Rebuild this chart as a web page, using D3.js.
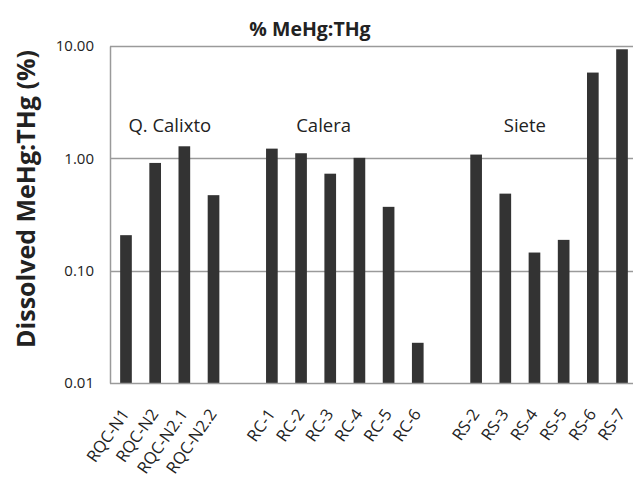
<!DOCTYPE html>
<html>
<head>
<meta charset="utf-8">
<script src="https://cdn.jsdelivr.net/npm/d3@7"></script>
<style>
  html, body { margin: 0; padding: 0; background: #fff; }
  svg { display: block; }
  text { font-family: "Open Sans", "Liberation Sans", sans-serif; fill: #222; }
</style>
</head>
<body>
<svg id="chart" width="633" height="485"></svg>
<script>
// Sampling sites, grouped by river, and their dissolved MeHg:THg ratio (%)
const groups = ["Q. Calixto", "Calera", "Siete"];
const qCalixtoSites = ["RQC-N1", "RQC-N2", "RQC-N2.1", "RQC-N2.2"];
const qCalixtoValues = [0.207, 0.91, 1.28, 0.47];
const caleraSites = ["RC-1", "RC-2", "RC-3", "RC-4", "RC-5", "RC-6"];
const caleraValues = [1.22, 1.11, 0.73, 1.01, 0.37, 0.0228];
const sieteSites = ["RS-2", "RS-3", "RS-4", "RS-5", "RS-6", "RS-7"];
const sieteValues = [1.08, 0.485, 0.145, 0.188, 5.8, 9.35];
const yTicks = [0.01, 0.1, 1, 10];

const svg = d3.select("#chart");
const margin = { left: 110, right: 638, top: 46, bottom: 383 };

// Category slots: one empty slot separates neighbouring groups
const siteLists = [qCalixtoSites, caleraSites, sieteSites];
const valueLists = [qCalixtoValues, caleraValues, sieteValues];
const slots = [];
const bars = [];
siteLists.forEach((sites, g) => {
  if (g > 0) slots.push("gap-" + g);
  sites.forEach((s, i) => {
    slots.push(s);
    bars.push({ site: s, value: valueLists[g][i], group: g });
  });
});

const x = d3.scaleBand()
  .domain(slots)
  .range([margin.left, margin.right])
  .paddingInner(0.6)
  .paddingOuter(0.348);

const y = d3.scaleLog()
  .domain([0.01, 10])
  .range([margin.bottom, margin.top]);

// Horizontal gridlines (the top one doubles as the frame)
svg.append("g")
  .selectAll("line")
  .data(yTicks.slice(1))
  .join("line")
  .attr("x1", margin.left)
  .attr("x2", 633)
  .attr("y1", d => Math.round(y(d)) + 0.5)
  .attr("y2", d => Math.round(y(d)) + 0.5)
  .attr("stroke", "#9a9a9a")
  .attr("stroke-width", 1.5);

// Bars
svg.append("g")
  .selectAll("rect")
  .data(bars)
  .join("rect")
  .attr("x", d => x(d.site))
  .attr("width", x.bandwidth())
  .attr("y", d => y(d.value))
  .attr("height", d => y(0.01) - y(d.value))
  .attr("fill", "#333333");

// Y axis
const yAxis = d3.axisLeft(y)
  .tickValues(yTicks)
  .tickFormat(d3.format(".2f"))
  .tickSize(0)
  .tickPadding(16);
const yg = svg.append("g")
  .attr("transform", `translate(${margin.left},0)`)
  .call(yAxis);
yg.select(".domain").attr("stroke", "#9a9a9a").attr("stroke-width", 1.5);
yg.selectAll("text")
  .attr("font-size", 15)
  .attr("fill", "#222")
  .style("font-family", "'Open Sans', sans-serif");

// X axis with rotated site labels
const xAxis = d3.axisBottom(x)
  .tickValues(slots.filter(s => !s.startsWith("gap")))
  .tickSize(0)
  .tickPadding(0);
const xg = svg.append("g")
  .attr("transform", `translate(0,${margin.bottom})`)
  .call(xAxis);
xg.select(".domain").attr("stroke", "#9a9a9a").attr("stroke-width", 1.5)
  .attr("d", `M${margin.left},0.5H633`);
xg.selectAll("text")
  .attr("font-size", 16.5)
  .attr("fill", "#222")
  .attr("text-anchor", "end")
  .attr("dy", 0)
  .attr("y", 0)
  .attr("transform", "translate(4,31) rotate(-55)")
  .style("font-family", "'Open Sans', sans-serif");

// Group names above the bars
const groupLabelPos = [
  { name: groups[0], cx: (x(qCalixtoSites[0]) + x(qCalixtoSites[3]) + x.bandwidth()) / 2 },
  { name: groups[1], cx: (x(caleraSites[1]) + x(caleraSites[2]) + x.bandwidth()) / 2 + 8 },
  { name: groups[2], cx: (x(sieteSites[1]) + x(sieteSites[2]) + x.bandwidth()) / 2 + 5 }
];
svg.append("g")
  .selectAll("text")
  .data(groupLabelPos)
  .join("text")
  .attr("x", d => d.cx)
  .attr("y", 132)
  .attr("text-anchor", "middle")
  .attr("font-size", 18.5)
  .text(d => d.name);

// Title
svg.append("text")
  .attr("x", 310)
  .attr("y", 36)
  .attr("text-anchor", "middle")
  .attr("font-size", 19.5)
  .attr("font-weight", "bold")
  .text("% MeHg:THg");

// Y axis title
svg.append("text")
  .attr("transform", "translate(35,199) rotate(-90)")
  .attr("text-anchor", "middle")
  .attr("font-size", 25)
  .attr("font-weight", "bold")
  .text("Dissolved MeHg:THg (%)");
</script>
</body>
</html>
